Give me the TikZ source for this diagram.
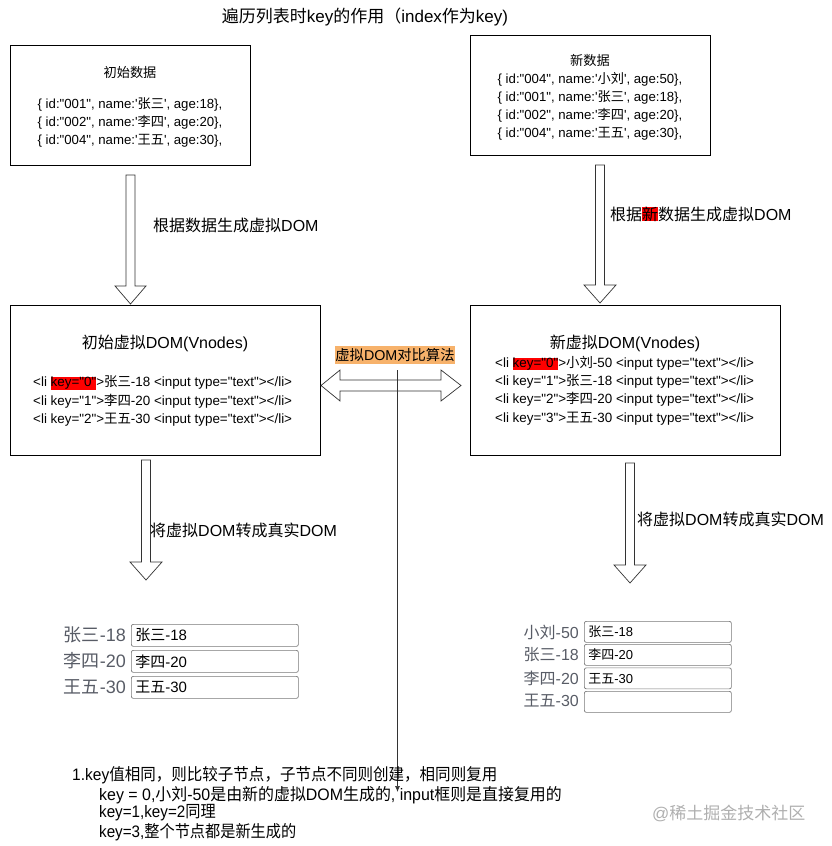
\documentclass[tikz,border=0pt]{standalone}
\usepackage{fontspec}
\usetikzlibrary{arrows.meta}
\newfontfamily\cjk{Noto Sans CJK SC}
\newfontfamily\lat{Liberation Sans}
\XeTeXinterchartokenstate=1
\newXeTeXintercharclass\cjkclass
\makeatletter
\count@="3000 \loop\ifnum\count@<"3040 \XeTeXcharclass\count@=\cjkclass \advance\count@ 1 \repeat
\count@="4E00 \loop\ifnum\count@<"A000 \XeTeXcharclass\count@=\cjkclass \advance\count@ 1 \repeat
\count@="FF00 \loop\ifnum\count@<"FFF0 \XeTeXcharclass\count@=\cjkclass \advance\count@ 1 \repeat
\makeatother
\XeTeXinterchartoks 0 \cjkclass = {\cjk}
\XeTeXinterchartoks 4095 \cjkclass = {\cjk}
\XeTeXinterchartoks \cjkclass 0 = {\lat}
\XeTeXinterchartoks 4095 0 = {\lat}
\definecolor{hlorange}{RGB}{247,178,107}
\definecolor{lblgray}{RGB}{88,92,102}
\definecolor{inbord}{RGB}{120,120,120}
\definecolor{wmgray}{RGB}{175,175,175}
\newcommand{\hl}[1]{{\setlength{\fboxsep}{0pt}\colorbox{red}{#1}}}
\newcommand{\narrow}[2][0.915]{\scalebox{#1}[1]{#2}}
\tikzset{
  every node/.style={font=\lat, inner sep=0pt},
  box/.style={draw=black, line width=0.8pt, anchor=north west},
  blk/.style={draw=black!80, line width=0.7pt, fill=white},
  small/.style={font=\lat\fontsize{13.2}{18}\selectfont},
  code/.style={font=\lat\fontsize{13.4}{18.3}\selectfont},
  mid/.style={font=\lat\fontsize{16}{19}\selectfont},
  inbox/.style={draw=inbord, line width=0.7pt, rounded corners=2pt, minimum width=167pt, minimum height=22pt, anchor=north west, inner xsep=4pt, text width=159pt, align=left, font=\lat\fontsize{15}{17}\selectfont},
  rinbox/.style={inbox, minimum width=147pt, text width=139pt, minimum height=21pt, font=\lat\fontsize{13}{15}\selectfont},
  inlabel/.style={anchor=east, text=lblgray, font=\lat\fontsize{18}{20}\selectfont},
  rinlabel/.style={inlabel, font=\lat\fontsize{16}{18}\selectfont},
  note/.style={anchor=west, font=\lat\fontsize{16.6}{19}\selectfont}
}
\begin{document}
\begin{tikzpicture}[x=1pt,y=-1pt]
\useasboundingbox (0,0) rectangle (831,846);
% title
\node[font=\lat\fontsize{17}{20}\selectfont] (title) at (365,17) {遍历列表时key的作用（index作为key)};
% box 1
\node[box, minimum width=240pt, minimum height=120pt] (b1) at (10,45) {};
\node[small] (b1t) at (130,72) {初始数据};
\node[small, align=center] (b1c) at (130,122) {\{ id:"001", name:'张三', age:18\},\\\{ id:"002", name:'李四', age:20\},\\\{ id:"004", name:'王五', age:30\},};
% box 2
\node[box, minimum width=240pt, minimum height=120pt] (b2) at (470,35) {};
\node[small, align=center] (b2c) at (590,97) {新数据\\\{ id:"004", name:'小刘', age:50\},\\\{ id:"001", name:'张三', age:18\},\\\{ id:"002", name:'李四', age:20\},\\\{ id:"004", name:'王五', age:30\},};
% arrows down 1,2
\draw[blk] (126,175) -- (135,175) -- (135,286) -- (146,286) -- (130.5,304) -- (115,286) -- (126,286) -- cycle;
\node[mid, anchor=west] (l1) at (153,225) {根据数据生成虚拟DOM};
\draw[blk] (595.5,165) -- (604.5,165) -- (604.5,285) -- (616,285) -- (600,303) -- (584,285) -- (595.5,285) -- cycle;
\node[mid, anchor=west] (l2) at (610,214) {根据{\setlength{\fboxsep}{0pt}\colorbox{red}{新}}数据生成虚拟DOM};
% box 3
\node[box, minimum width=310pt, minimum height=150pt] (b3) at (10,305) {};
\node[mid] (b3t) at (165,343) {初始虚拟DOM(Vnodes)};
\node[code, anchor=west, align=left] (b3c) at (33,401) {<li \hl{key="0"}>张三-18 <input type="text"></li>\\<li key="1">李四-20 <input type="text"></li>\\<li key="2">王五-30 <input type="text"></li>};
% box 4
\node[box, minimum width=310pt, minimum height=150pt] (b4) at (470,305) {};
\node[mid] (b4t) at (625,343) {新虚拟DOM(Vnodes)};
\node[code, anchor=west, align=left] (b4c) at (495,390.5) {<li \hl{key="0"}>小刘-50 <input type="text"></li>\\<li key="1">张三-18 <input type="text"></li>\\<li key="2">李四-20 <input type="text"></li>\\<li key="3">王五-30 <input type="text"></li>};
% compare label and double arrow
\node[fill=hlorange, inner xsep=0.5pt, inner ysep=2.5pt, font=\lat\fontsize{14.3}{17}\selectfont] (cmp) at (395,355) {虚拟DOM对比算法};
\draw[blk] (321,385.5) -- (340,370) -- (340,380) -- (441,380) -- (441,370) -- (461,385.5) -- (441,401) -- (441,391) -- (340,391) -- (340,401) -- cycle;
\coordinate (vtop) at (397.5,370);
\coordinate (vend) at (397.5,792);
\draw[black!80, line width=0.7pt, -{Latex[length=6pt,width=5pt]}] (vtop) -- (vend);
% arrows down 3,4
\draw[blk] (141.5,460) -- (150.5,460) -- (150.5,562) -- (162,562) -- (146,580) -- (130,562) -- (141.5,562) -- cycle;
\node[mid, anchor=west] (l3) at (150,530) {将虚拟DOM转成真实DOM};
\draw[blk] (625.5,463) -- (634.5,463) -- (634.5,565) -- (646,565) -- (630,583) -- (614,565) -- (625.5,565) -- cycle;
\node[mid, anchor=west] (l4) at (637,519) {将虚拟DOM转成真实DOM};
% left inputs
\node[inbox] (i1) at (131,624) {张三-18};
\node[inbox] (i2) at (131,650) {李四-20};
\node[inbox] (i3) at (131,676) {王五-30};
\node[inlabel] (t1) at (126,635) {张三-18};
\node[inlabel] (t2) at (126,661) {李四-20};
\node[inlabel] (t3) at (126,687) {王五-30};
% right inputs
\node[rinbox] (j1) at (584,621) {张三-18};
\node[rinbox] (j2) at (584,644) {李四-20};
\node[rinbox] (j3) at (584,667.5) {王五-30};
\node[rinbox] (j4) at (584,691) {};
\node[rinlabel] (u1) at (579,632) {小刘-50};
\node[rinlabel] (u2) at (579,655) {张三-18};
\node[rinlabel] (u3) at (579,678) {李四-20};
\node[rinlabel] (u4) at (579,701) {王五-30};
% notes
\node[note] (n1) at (72,775) {\narrow[0.935]{1.key值相同，则比较子节点，子节点不同则创建，相同则复用}};
\node[note] (n2) at (99,795) {\narrow[0.96]{key = 0,小刘-50是由新的虚拟DOM生成的, input框则是直接复用的}};
\node[note] (n3) at (99,813) {\narrow{key=1,key=2同理}};
\node[note] (n4) at (99,832) {\narrow{key=3,整个节点都是新生成的}};
\node[anchor=west, text=wmgray, font=\cjk\fontsize{17}{20}\selectfont] (wm) at (652,813) {@稀土掘金技术社区};
\end{tikzpicture}
\end{document}
